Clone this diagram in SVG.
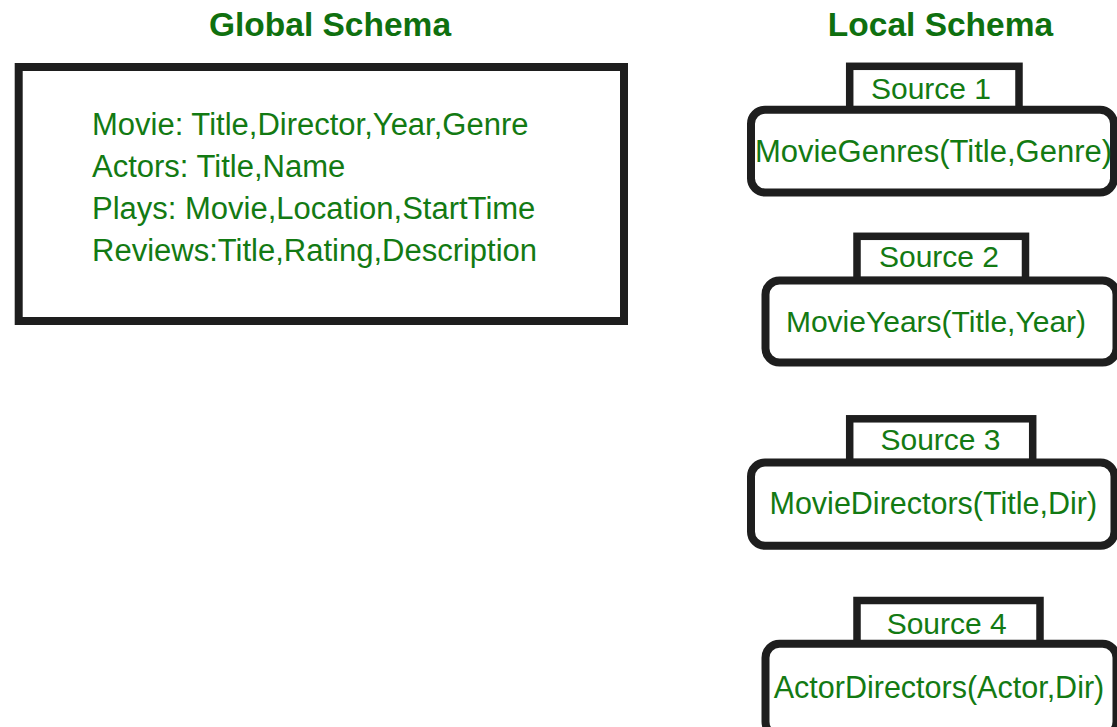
<svg xmlns="http://www.w3.org/2000/svg" width="1117" height="727" viewBox="0 0 1117 727">
<style>
.title{font-family:"Liberation Sans",Arial,sans-serif;font-weight:bold;font-size:33.5px;fill:#0f700f;text-anchor:middle}
.t{font-family:"Liberation Sans",Arial,sans-serif;font-size:31px;fill:#137a13}
.s{font-size:30px}
.m{font-size:30.5px}
.c{text-anchor:middle}
.box{fill:#fff;stroke:#1e1e1e;stroke-width:8}
.tab{fill:#fff;stroke:#1e1e1e;stroke-width:7.5}
</style>
<rect width="1117" height="727" fill="#fff"/>
<text class="title" x="330" y="35.5">Global Schema</text>
<text class="title" x="940.5" y="35.5">Local Schema</text>
<g id="global">
<rect class="box" x="18.7" y="67" width="605.3" height="254"/>
<text class="t" x="92" y="135">Movie: Title,Director,Year,Genre</text>
<text class="t" x="92" y="176.5">Actors: Title,Name</text>
<text class="t" x="92" y="219">Plays: Movie,Location,StartTime</text>
<text class="t" x="92" y="261">Reviews:Title,Rating,Description</text>
</g>
<g id="source1">
<rect class="tab" x="849.7" y="66.3" width="169.3" height="43.4"/>
<rect class="box" x="751" y="109.7" width="363" height="82.8" rx="14"/>
<text class="t s c" x="931" y="99">Source 1</text>
<text class="t c" x="933.5" y="162">MovieGenres(Title,Genre)</text>
</g>
<g id="source2">
<rect class="tab" x="857" y="236.3" width="168.5" height="44.2"/>
<rect class="box" x="765.5" y="280.5" width="351" height="82" rx="14"/>
<text class="t s c" x="939" y="267">Source 2</text>
<text class="t s c" x="936" y="332">MovieYears(Title,Year)</text>
</g>
<g id="source3">
<rect class="tab" x="849.7" y="418.8" width="183" height="43.7"/>
<rect class="box" x="751" y="462.5" width="363.5" height="83.3" rx="14"/>
<text class="t s c" x="940.5" y="450">Source 3</text>
<text class="t m c" x="933.3" y="514">MovieDirectors(Title,Dir)</text>
</g>
<g id="source4">
<rect class="tab" x="857" y="600.5" width="183" height="43.3"/>
<rect class="box" x="765.5" y="643.8" width="351" height="92" rx="14"/>
<text class="t s c" x="946.7" y="633.5">Source 4</text>
<text class="t m c" x="939" y="698">ActorDirectors(Actor,Dir)</text>
</g>
<g id="connectors"/>
</svg>
